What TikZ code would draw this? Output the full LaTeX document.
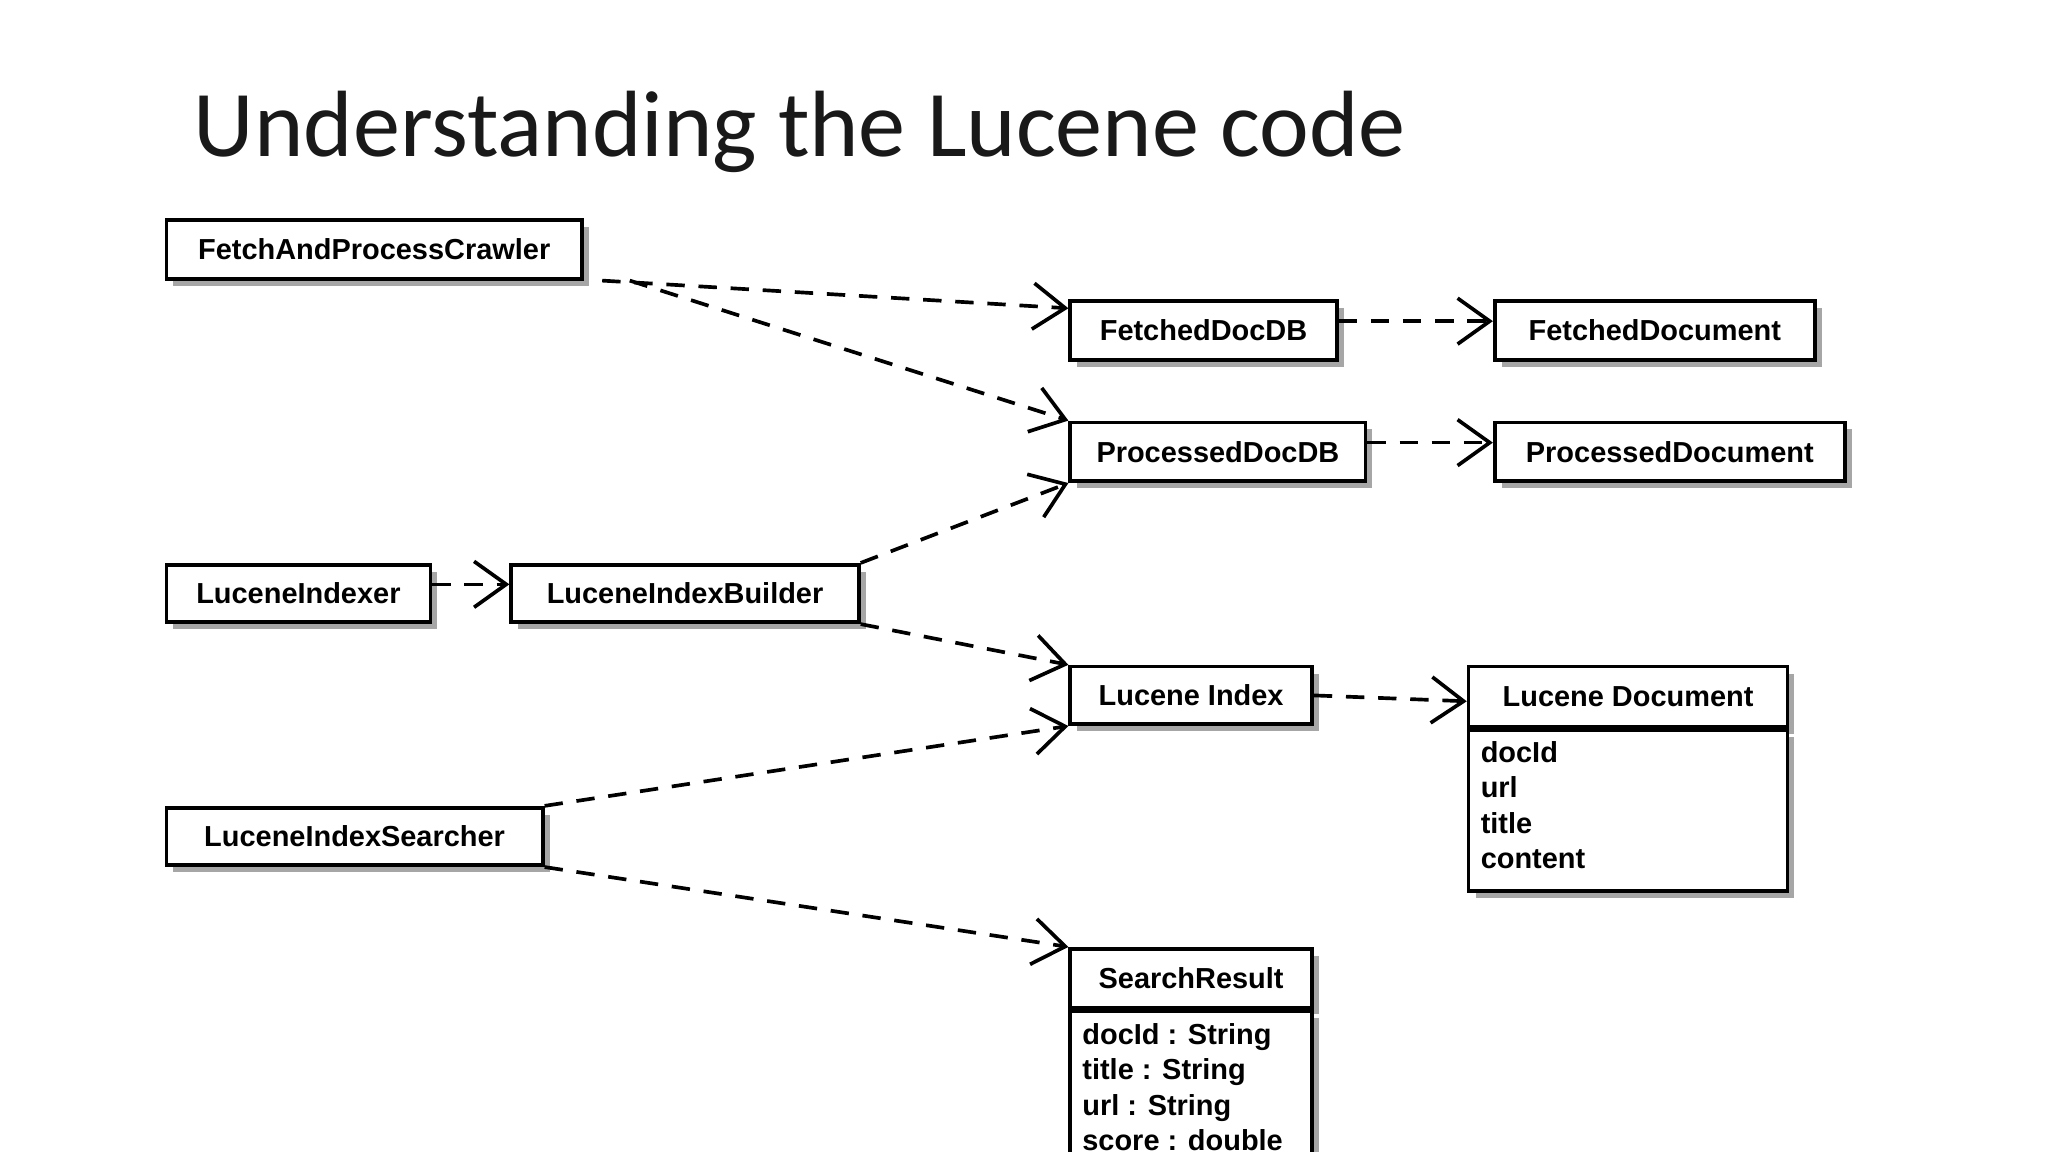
\documentclass[tikz,border=0pt]{standalone}
\usepackage{fontspec}
\setmainfont{Liberation Sans}
\newfontfamily\titlefont{Carlito}
\usetikzlibrary{arrows.meta,shadows}
\begin{document}
\begin{tikzpicture}[x=0.01cm, y=-0.01cm,
    box/.style={draw, thick, fill=white, anchor=north west, inner sep=0pt,
                font=\fontsize{6.3}{7}\selectfont\bfseries,
                drop shadow={shadow xshift=1.5pt, shadow yshift=-1.5pt, fill=black!35, opacity=1}},
    lines/.style={anchor=north west, align=left, inner sep=0pt,
                  font=\fontsize{6.3}{7.7}\selectfont\bfseries},
    dep/.style={thick, dashed, dash pattern=on 4pt off 3pt, -{Straight Barb[length=7pt,width=10pt]}}]

  \clip (0,0) rectangle (1568,882);
  \useasboundingbox (0,0) rectangle (1568,882);

  \node[anchor=base west, font=\titlefont\fontsize{20.5}{24}\selectfont, text=black!90] (title) at (136,120) {Understanding the Lucene code};

  \node[box, minimum width=3.18cm, minimum height=0.45cm] (crawler) at (126,167) {FetchAndProcessCrawler};
  \node[box, minimum width=2.04cm, minimum height=0.45cm] (fetcheddb) at (818,229) {FetchedDocDB};
  \node[box, minimum width=2.45cm, minimum height=0.45cm] (fetcheddoc) at (1143,229) {FetchedDocument};
  \node[box, minimum width=2.26cm, minimum height=0.45cm] (processeddb) at (818,322) {ProcessedDocDB};
  \node[box, minimum width=2.68cm, minimum height=0.45cm] (processeddoc) at (1143,322) {ProcessedDocument};
  \node[box, minimum width=2.02cm, minimum height=0.44cm] (indexer) at (126,431) {LuceneIndexer};
  \node[box, minimum width=2.66cm, minimum height=0.44cm] (builder) at (390,431) {LuceneIndexBuilder};
  \node[box, minimum width=1.85cm, minimum height=0.44cm] (index) at (818,509) {Lucene Index};
  \node[box, minimum width=2.44cm, minimum height=0.46cm] (ldochead) at (1123,509) {Lucene Document};
  \node[box, minimum width=2.44cm, minimum height=1.23cm] (ldocbody) at (ldochead.south west) {};
  \node[lines] (ldoctext) at (1133,567) {docId\\url\\title\\content};
  \node[box, minimum width=2.88cm, minimum height=0.44cm] (searcher) at (126,617) {LuceneIndexSearcher};
  \node[box, minimum width=1.85cm, minimum height=0.45cm] (resulthead) at (818,725) {SearchResult};
  \node[box, minimum width=1.85cm, minimum height=1.4cm] (resultbody) at (resulthead.south west) {};
  \node[lines] (resulttext) at (828,783) {docId : String\\title : String\\url : String\\score : double};

  % dependencies
  \draw[dep] ([xshift=4pt]crawler.south east) -- ([yshift=-2pt]fetcheddb.north west);
  \draw[dep] ([xshift=10pt]crawler.south east) -- (processeddb.north west);
  \draw[dep] ([yshift=2pt]fetcheddb.east) -- ([yshift=2pt]fetcheddoc.west);
  \draw[dep] ([yshift=2pt]processeddb.east) -- ([yshift=2pt]processeddoc.west);
  \draw[dep] ([yshift=2pt]indexer.east) -- ([yshift=2pt]builder.west);
  \draw[dep] (builder.north east) -- (processeddb.south west);
  \draw[dep] (builder.south east) -- (index.north west);
  \draw[dep] (index.east) -- ([yshift=-1pt]ldochead.west);
  \draw[dep] (searcher.north east) -- (index.south west);
  \draw[dep] (searcher.south east) -- (resulthead.north west);

\end{tikzpicture}
\end{document}
